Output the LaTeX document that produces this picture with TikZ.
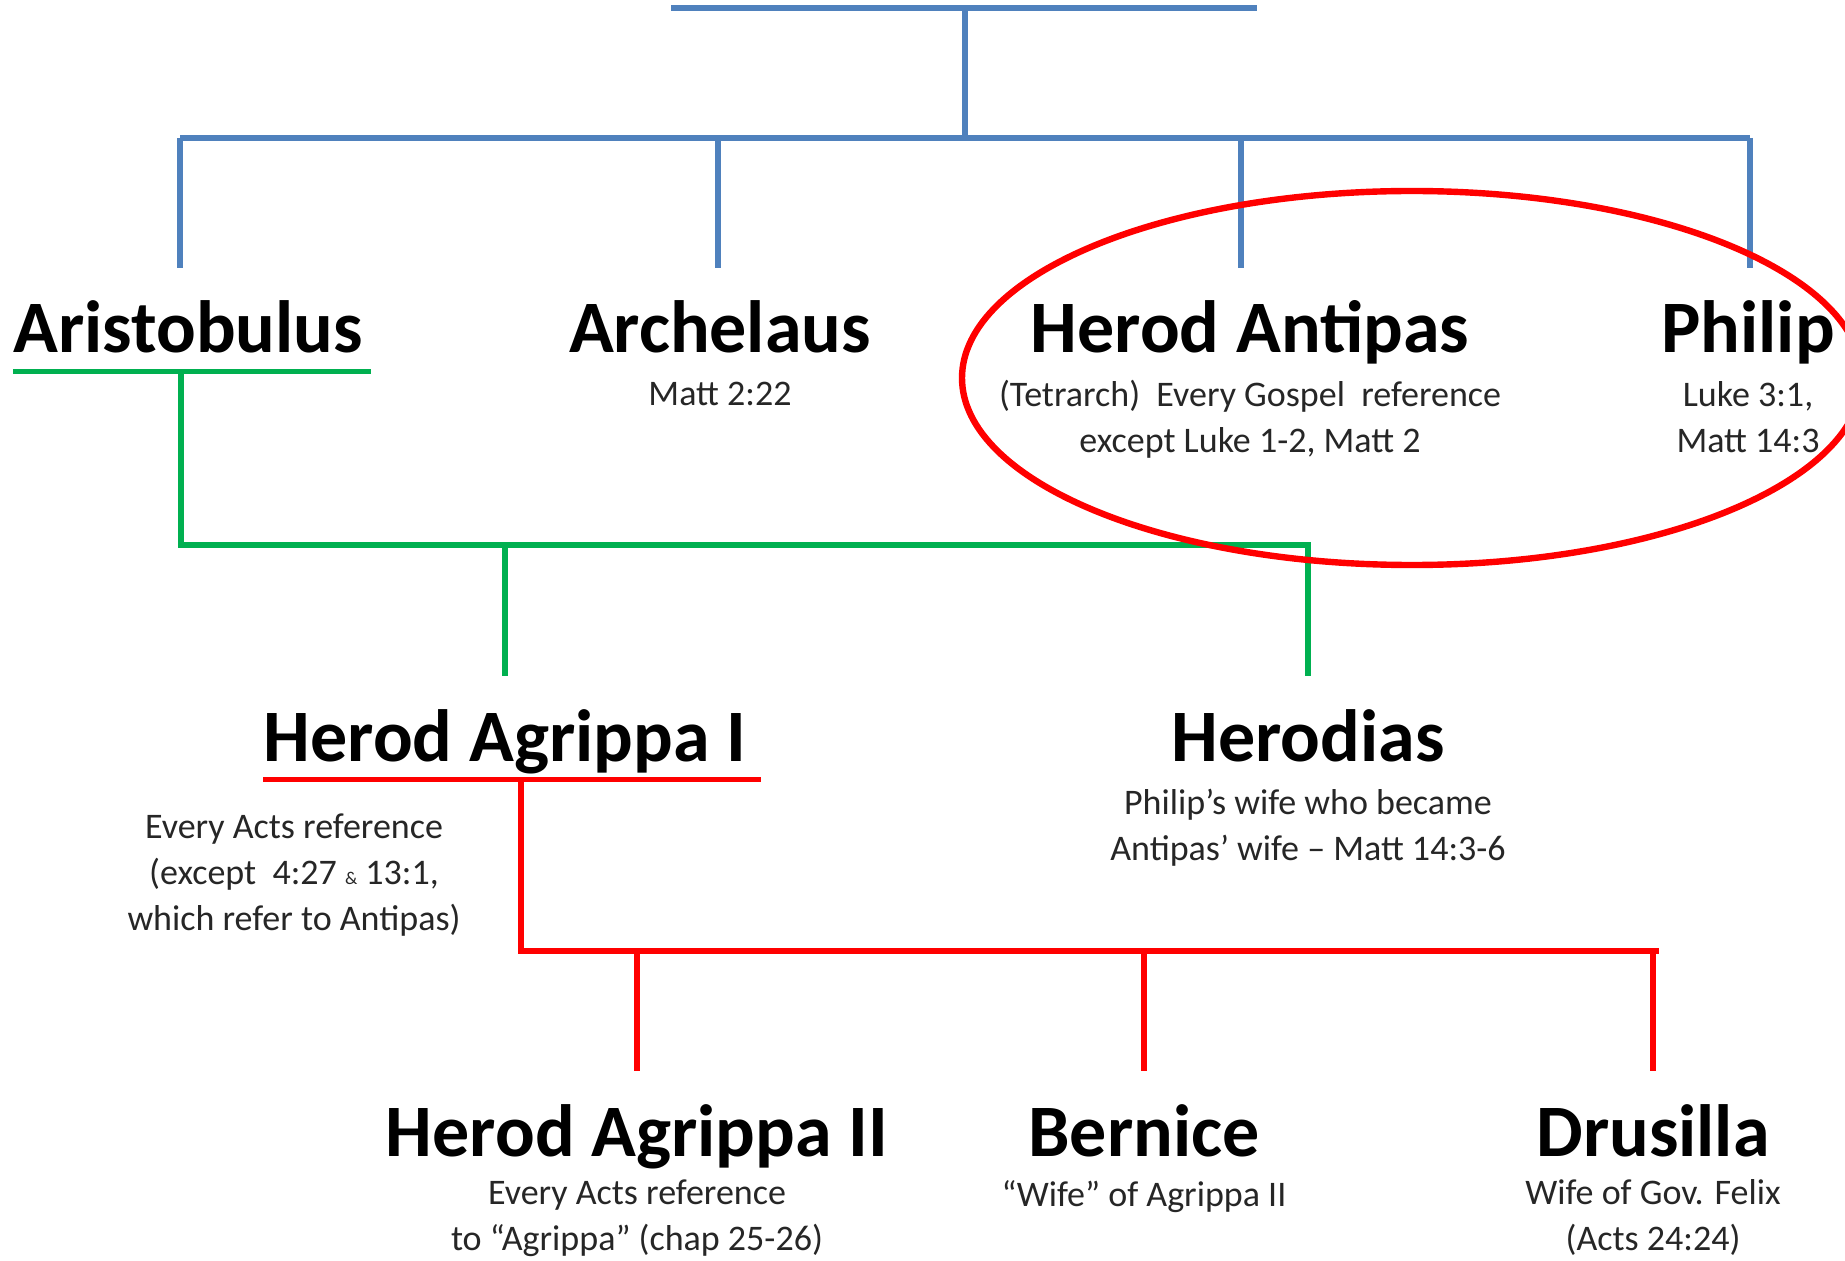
\documentclass[tikz,border=0pt]{standalone}
\usepackage{fontspec}
\setmainfont{Carlito}
\definecolor{treeblue}{HTML}{4F81BD}
\definecolor{treegreen}{HTML}{00B050}
\definecolor{treered}{HTML}{FF0000}
\tikzset{
  person/.style={font=\bfseries\fontsize{37}{44}\selectfont, inner sep=0pt,
    text height=42.5pt, text depth=9pt, anchor=base},
  hnote/.style={font=\fontsize{18}{23}\selectfont, align=center, inner sep=0pt,
    anchor=base, text=black!85},
  blueline/.style={treeblue, line width=2.8pt},
  greenline/.style={treegreen, line width=2.8pt},
  redline/.style={treered, line width=2.8pt}
}

\begin{document}
\begin{tikzpicture}[x=0.5pt, y=-0.5pt]
  \useasboundingbox (0,0) rectangle (1845,1261);
  \clip (0,0) rectangle (1845,1261);
  % Help lines
  %\draw[help lines, step=50] (0,0) grid (1845,1261);

  % sons (notes sit on the baseline of their last line)
  \node[person] (aristobulus) at (188,353) {Aristobulus};
  \node[person] (archelaus) at (720,353) {Archelaus};
  \node[person] (antipas) at (1250,353) {Herod Antipas};
  \node[person] (philip) at (1748,353) {Philip};
  \node[hnote] (archelaus-ref) at (720,406) {Matt 2:22};
  \node[hnote] (antipas-ref) at (1250,452) {(Tetrarch)\ \ Every Gospel\ \ reference\\except Luke 1-2, Matt 2};
  \node[hnote] (philip-ref) at (1748,452) {Luke 3:1,\\Matt 14:3};

  % grandchildren
  \node[person] (agrippa1) at (505,761) {Herod Agrippa I};
  \node[person] (herodias) at (1308,761) {Herodias};
  \node[hnote] (agrippa1-ref) at (294,930) {Every Acts reference\\(except\ \ 4:27 {\small\&} 13:1,\\which refer to Antipas)};
  \node[hnote] (herodias-ref) at (1308,860) {Philip’s wife who became\\Antipas’ wife – Matt 14:3-6};

  % great-grandchildren
  \node[person] (agrippa2) at (637,1156) {Herod Agrippa II};
  \node[person] (bernice) at (1144,1156) {Bernice};
  \node[person] (drusilla) at (1653,1156) {Drusilla};
  \node[hnote] (agrippa2-ref) at (637,1250) {Every Acts reference\\to “Agrippa” (chap 25-26)};
  \node[hnote] (bernice-ref) at (1144,1206) {“Wife” of Agrippa II};
  \node[hnote] (drusilla-ref) at (1653,1250) {Wife of Gov. Felix\\(Acts 24:24)};

  % blue tree
  \coordinate (top-l) at (671,8);
  \coordinate (top-m) at (965,8);
  \coordinate (top-r) at (1257,8);
  \coordinate (bar-m) at (965,138);
  \coordinate (d1) at (180,138);
  \coordinate (d2) at (718,138);
  \coordinate (d3) at (1241,138);
  \coordinate (d4) at (1750,138);
  \draw[blueline] (top-l) -- (top-r);
  \draw[blueline] (top-m) -- (bar-m);
  \draw[blueline] (d1) -- (d4);
  \foreach \d/\n in {d1/aristobulus, d2/archelaus, d3/antipas, d4/philip}
    \draw[blueline] (\d) -- (\d |- \n.north);

  % green tree
  \coordinate (g0) at (181,545);
  \draw[greenline] (aristobulus.south west) -- ([xshift=4pt]aristobulus.south east);
  \draw[greenline] (g0 |- aristobulus.south) -- (g0) -- (g0 -| herodias) -- (herodias.north);
  \draw[greenline] (g0 -| agrippa1) -- (agrippa1.north);

  % red tree
  \coordinate (r0) at (521,951);
  \draw[redline] (agrippa1.south west) -- ([xshift=7pt]agrippa1.south east);
  \draw[redline] (r0 |- agrippa1.south) -- (r0) -- ([xshift=3pt]r0 -| drusilla);
  \foreach \n in {agrippa2, bernice, drusilla}
    \draw[redline] (r0 -| \n) -- (\n.north);

  \draw[treered, line width=3.2pt] (1412,378) ellipse (450 and 187);
\end{tikzpicture}
\end{document}
